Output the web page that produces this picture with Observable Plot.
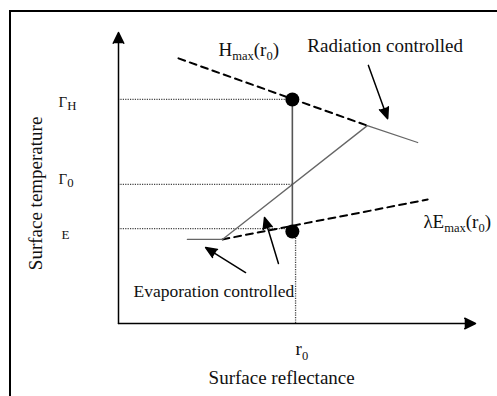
<!DOCTYPE html>
<html>
<head>
<meta charset="utf-8">
<script src="https://cdn.jsdelivr.net/npm/d3@7"></script>
<script src="https://cdn.jsdelivr.net/npm/@observablehq/plot@0.6"></script>
<style>
  html, body { margin: 0; padding: 0; background: #fff; overflow: hidden; }
  #wrap { position: relative; width: 497px; height: 396px; }
  #frame { position: absolute; left: 9px; top: 10px; width: 500px; height: 400px;
           border-left: 2px solid #000; border-top: 2px solid #000; pointer-events: none; }
  svg text { font-family: "Liberation Serif", "Times New Roman", "DejaVu Serif", serif !important; }
</style>
</head>
<body>
<div id="wrap"><div id="frame"></div></div>
<script>
// ---- conceptual data (abstract units: reflectance r, temperature t, 0..100) ----
const r0 = 48.7;          // reference reflectance r0
const r0Tick = 49.6;      // where the r0 tick (dotted drop line) meets the axis
const hmaxR = [16.8, 69.7];
const hmaxT = [91.1, 68.0];
const lambdaER = [29.1, 86.6];
const lambdaET = [28.9, 42.6];
const surfR = [19.3, 29.1, 69.7, 83.8];
const surfT = [28.9, 28.9, 68.0, 62.2];
const levelNames = ["Γ_{H}", "Γ_{0}", "E"];
const levelT = [77.0, 47.8, 32.6];
const dotT = [77.0, 31.6];
// pointer arrows: tail (r1,t1) -> tip (r2,t2)
const arrowR1 = [70.0, 35.6, 44.8];
const arrowT1 = [88.7, 17.5, 20.6];
const arrowR2 = [75.4, 24.4, 40.9];
const arrowT2 = [70.4, 26.1, 36.4];
// annotation texts
const annText = ["H_{max}(r_{0})", "Radiation controlled", "λE_{max}(r_{0})", "Evaporation controlled"];
const annR = [28.0, 52.9, 85.4, 4.2];
const annT = [94.1, 95.5, 35.0, 10.9];
const levelLabelR = [-16.8, -16.8, -16.0];
const levelLabelT = [75.9, 49.5, 30.6];
const xTitle = "Surface reflectance";
const yTitle = "Surface temperature";
const r0Label = "r_{0}";

// ---- tables built from the arrays ----
const hmax = hmaxR.map((r, i) => ({r, t: hmaxT[i]}));
const lambdaE = lambdaER.map((r, i) => ({r, t: lambdaET[i]}));
const surf = surfR.map((r, i) => ({r, t: surfT[i]}));
const levels = levelNames.map((name, i) => ({name, t: levelT[i], lr: levelLabelR[i], lt: levelLabelT[i]}));
const dots = dotT.map(t => ({r: r0, t}));
const arrows = arrowR1.map((r1, i) => ({r1, t1: arrowT1[i], r2: arrowR2[i], t2: arrowT2[i]}));
const anns = annText.map((text, i) => ({text, r: annR[i], t: annT[i]}));

const serif = "Liberation Serif";

const chart = Plot.plot({
  width: 497,
  height: 396,
  marginLeft: 118,
  marginRight: 22,
  marginTop: 32,
  marginBottom: 73,
  x: {domain: [0, 100], axis: null},
  y: {domain: [0, 100], axis: null},
  style: {fontFamily: serif, background: "transparent", overflow: "visible", color: "#000"},
  marks: [
    // dotted guide lines
    Plot.ruleY(levels, {y: "t", x1: 0, x2: r0, stroke: "#444", strokeWidth: 1.3, strokeDasharray: "1.2,1.2"}),
    Plot.ruleX([r0Tick], {x: d => d, y1: 0, y2: dotT[1], stroke: "#444", strokeWidth: 1.3, strokeDasharray: "1.2,1.2"}),
    // dashed limits
    Plot.line(hmax, {x: "r", y: "t", stroke: "#000", strokeWidth: 2, strokeDasharray: "7,5"}),
    Plot.line(lambdaE, {x: "r", y: "t", stroke: "#000", strokeWidth: 2, strokeDasharray: "7,5"}),
    // surface temperature curve
    Plot.line(surf, {x: "r", y: "t", stroke: "#666", strokeWidth: 1.3}),
    // vertical at r0
    Plot.line(dots, {x: "r", y: "t", stroke: "#555", strokeWidth: 1.6}),
    Plot.dot(dots, {x: "r", y: "t", r: 7, fill: "#000", stroke: "none"}),
    // axes with arrowheads
    Plot.arrow([{r1: 0, t1: 0, r2: 0, t2: 100}, {r1: 0, t1: 0, r2: 100, t2: 0}],
      {x1: "r1", y1: "t1", x2: "r2", y2: "t2", stroke: "#000", fill: "#000", strokeWidth: 1.5, headLength: 12, headAngle: 52}),
    // pointer arrows
    Plot.arrow(arrows, {x1: "r1", y1: "t1", x2: "r2", y2: "t2", stroke: "#000", fill: "#000", strokeWidth: 1.5, headLength: 12, headAngle: 46}),
    // annotations
    Plot.text(anns.filter(d => d.text !== "Evaporation controlled"), {x: "r", y: "t", text: "text", textAnchor: "start", fontSize: 19, fontFamily: serif, fill: "#111"}),
    Plot.text(anns.filter(d => d.text === "Evaporation controlled"), {x: "r", y: "t", text: "text", textAnchor: "start", fontSize: 17.5, fontFamily: serif, fill: "#111"}),
    Plot.text(levels.filter(d => d.name !== "E"), {x: "lr", y: "lt", text: "name", textAnchor: "start", fontSize: 15, fontFamily: serif, fill: "#111"}),
    Plot.text(levels.filter(d => d.name === "E"), {x: "lr", y: "lt", text: "name", textAnchor: "start", fontSize: 13, fontFamily: serif, fill: "#111"}),
    Plot.text([r0Label], {x: r0Tick, y: -8.9, text: d => d, textAnchor: "start", fontSize: 19, fontFamily: serif, fill: "#111"}),
    Plot.text([xTitle], {x: 45.7, y: -18.6, text: d => d, textAnchor: "middle", fontSize: 19, fontFamily: serif, fill: "#111"}),
    Plot.text([yTitle], {x: -23.0, y: 44.7, text: d => d, textAnchor: "middle", rotate: -90, fontSize: 19, fontFamily: serif, fill: "#111"})
  ]
});
chart.setAttribute("font-family", "Liberation Serif, serif");

// turn "_{...}" markup into subscript tspans
const NS = "http://www.w3.org/2000/svg";
chart.querySelectorAll("text").forEach(t => {
  const s = t.textContent;
  if (!s.includes("_{")) return;
  let fs = 16;
  let el = t;
  while (el && el.getAttribute) {
    const a = el.getAttribute("font-size");
    if (a) { fs = parseFloat(a); break; }
    el = el.parentNode;
  }
  const isLevel = s.startsWith("Γ");
  const subSize = fs * (isLevel ? 0.85 : 0.66);
  const shift = fs * (isLevel ? 0.18 : 0.22);
  while (t.firstChild) t.removeChild(t.firstChild);
  const parts = s.split(/(_\{[^}]*\})/).filter(p => p.length);
  let lowered = false;
  for (const p of parts) {
    const ts = document.createElementNS(NS, "tspan");
    if (p.startsWith("_{")) {
      ts.textContent = p.slice(2, -1);
      ts.setAttribute("font-size", subSize);
      ts.setAttribute("dy", lowered ? 0 : shift);
      lowered = true;
    } else {
      ts.textContent = p;
      if (lowered) { ts.setAttribute("dy", -shift); lowered = false; }
    }
    t.appendChild(ts);
  }
});

const wrap = document.getElementById("wrap");
wrap.insertBefore(chart, wrap.firstChild);
chart.style.position = "absolute";
chart.style.left = "0";
chart.style.top = "0";
</script>
</body>
</html>
